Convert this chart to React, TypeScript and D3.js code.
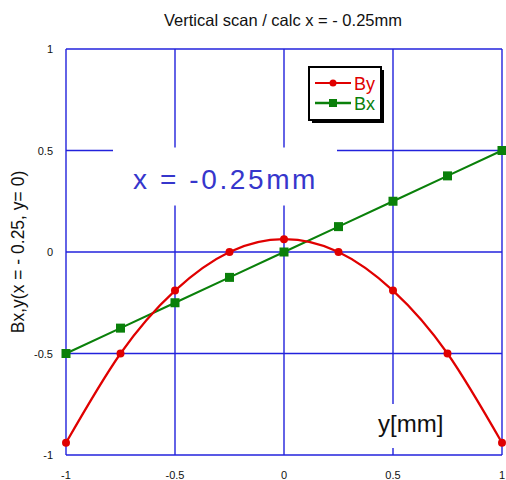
import React from 'react'
import * as d3 from 'd3'

// y position along the scan [mm]
const yPos = [-1, -0.75, -0.5, -0.25, 0, 0.25, 0.5, 0.75, 1]
// field values
const byVals = [-0.94, -0.5, -0.19, 0, 0.063, 0, -0.19, -0.5, -0.94]
const bxVals = [-0.5, -0.375, -0.25, -0.125, 0, 0.125, 0.25, 0.375, 0.5]
const xTicks = [-1, -0.5, 0, 0.5, 1]
const yTicks = [-1, -0.5, 0, 0.5, 1]
const xTickLabels = ['-1', '-0.5', '0', '0.5', '1']
const yTickLabels = ['-1', '-0.5', '0', '0.5', '1']

const W = 506
const H = 480
const FONT = 'Liberation Sans, Arial, sans-serif'
const GRID = '#2222dc'
const RED = '#e00000'
const GREEN = '#0a800a'

const App = () => {
  const x = d3.scaleLinear().domain([-1, 1]).range([66, 502])
  const y = d3.scaleLinear().domain([-1, 1]).range([455, 49])

  const byPts = yPos.map((p, i) => [p, byVals[i]] as [number, number])
  const bxPts = yPos.map((p, i) => [p, bxVals[i]] as [number, number])

  const curve = d3.line<[number, number]>()
    .x(d => x(d[0]))
    .y(d => y(d[1]))
    .curve(d3.curveNatural)
  const straight = d3.line<[number, number]>()
    .x(d => x(d[0]))
    .y(d => y(d[1]))

  return (
    <svg width={W} height={H} style={{ position: 'absolute', left: 0, top: 0 }}
      fontFamily={FONT}>
      <rect width={W} height={H} fill="#fff" />

      {/* grid + frame */}
      <g stroke={GRID} strokeWidth={1.4}>
        {xTicks.map(t => (
          <line key={'gx' + t} x1={x(t)} x2={x(t)} y1={y(1)} y2={y(-1)} />
        ))}
        {yTicks.map(t => (
          <line key={'gy' + t} x1={x(-1)} x2={x(1)} y1={y(t)} y2={y(t)} />
        ))}
      </g>

      {/* white label boxes that hide the grid */}
      <rect x={113} y={y(0.5) - 3} width={224} height={58} fill="#fff" />
      <rect x={370} y={404} width={88} height={44} fill="#fff" />

      {/* tick labels */}
      <g fontSize={11} fill="#111">
        {xTicks.map((t, i) => (
          <text key={'tx' + t} x={x(t)} y={479} textAnchor="middle">{xTickLabels[i]}</text>
        ))}
        {yTicks.map((t, i) => (
          <text key={'ty' + t} x={53} y={y(t) + 4} textAnchor="end">{yTickLabels[i]}</text>
        ))}
      </g>

      {/* series */}
      <path d={straight(bxPts) || ''} fill="none" stroke={GREEN} strokeWidth={2.2} />
      <path d={curve(byPts) || ''} fill="none" stroke={RED} strokeWidth={2.2} />
      {bxPts.map(d => (
        <rect key={'bx' + d[0]} x={x(d[0]) - 4.5} y={y(d[1]) - 4.5} width={9} height={9} fill={GREEN} />
      ))}
      {byPts.map(d => (
        <circle key={'by' + d[0]} cx={x(d[0])} cy={y(d[1])} r={4} fill={RED} />
      ))}

      {/* titles */}
      <text x={283} y={26} textAnchor="middle" fontSize={16.5} fill="#111">
        Vertical scan / calc x = - 0.25mm
      </text>
      <text transform={`translate(24,${y(0)}) rotate(-90)`} textAnchor="middle" fontSize={17.5} fill="#111">
        Bx,y(x = - 0.25, y= 0)
      </text>
      <text x={133} y={189} fontSize={28} fill="#3636cc" letterSpacing={2.6}>x = -0.25mm</text>
      <text x={378} y={432} fontSize={24} fill="#111">y[mm]</text>

      {/* legend */}
      <g>
        <rect x={312} y={70} width={72} height={53} fill="#000" />
        <rect x={309} y={67} width={72} height={53} fill="#fff" stroke="#000" strokeWidth={2} />
        <line x1={315} x2={351} y1={83} y2={83} stroke={RED} strokeWidth={2} />
        <circle cx={333} cy={83} r={3.5} fill={RED} />
        <text x={354} y={90} fontSize={18} fill={RED}>By</text>
        <line x1={315} x2={351} y1={103} y2={103} stroke={GREEN} strokeWidth={2.5} />
        <rect x={329} y={99} width={8} height={8} fill={GREEN} />
        <text x={354} y={110} fontSize={18} fill={GREEN}>Bx</text>
      </g>
    </svg>
  )
}

export default App
